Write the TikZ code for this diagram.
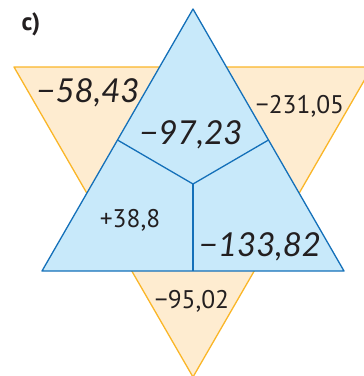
\documentclass[tikz,border=0pt]{standalone}
\usepackage{fontspec}
\setmainfont{PT Sans}
\newfontfamily\handfont{Lato}
\usetikzlibrary{calc}

\definecolor{bluefill}{RGB}{200,233,250}
\definecolor{blueline}{RGB}{20,112,185}
\definecolor{orangefill}{RGB}{254,236,208}
\definecolor{orangeline}{RGB}{250,182,40}
\definecolor{inkgray}{RGB}{35,31,32}

\begin{document}
\begin{tikzpicture}[x=1pt, y=-1pt, line join=round,
    bluetri/.style={fill=bluefill, draw=blueline, line width=1.3pt},
    orangetri/.style={fill=orangefill, draw=orangeline, line width=1.3pt},
    typed/.style={inner sep=0pt, text=inkgray, font=\fontsize{25.5}{25.5}\selectfont},
    hand/.style={inner sep=0pt, text=inkgray, font=\handfont\itshape\fontsize{33}{33}\selectfont}]

  \useasboundingbox (0,0) rectangle (364,376);
  \clip (0,0) rectangle (364,376);

  % corners of the two triangles
  \coordinate (o1) at (14,67);
  \coordinate (o2) at (372,67);
  \coordinate (o3) at (193,377);
  \coordinate (b1) at (193,9);
  \coordinate (b2) at (42,271);
  \coordinate (b3) at (344,271);
  \coordinate (ctr) at (193,184);

  \draw[orangetri] (o1) -- (o2) -- (o3) -- cycle;
  \draw[bluetri] (b1) -- (b2) -- (b3) -- cycle;

  % inner partition of the blue triangle
  \draw[blueline, line width=1.3pt] (ctr) -- ($(b1)!0.5!(b2)$);
  \draw[blueline, line width=1.3pt] (ctr) -- ($(b1)!0.5!(b3)$);
  \draw[blueline, line width=1.3pt] (ctr) -- ($(b2)!0.5!(b3)$);

  % numbers
  \node[hand] (n1) at (88,93) {−58,43};
  \node[hand] (n2) at (191,135) {−97,23};
  \node[typed] (n3) at (300,106) {−231,05};
  \node[typed] (n4) at (130,220) {+38,8};
  \node[hand] (n5) at (260,247) {−133,82};
  \node[typed] (n6) at (192,301) {−95,02};

  \node[typed, font=\bfseries\fontsize{25}{25}\selectfont] (lbl) at (31,24) {c)};
\end{tikzpicture}
\end{document}
